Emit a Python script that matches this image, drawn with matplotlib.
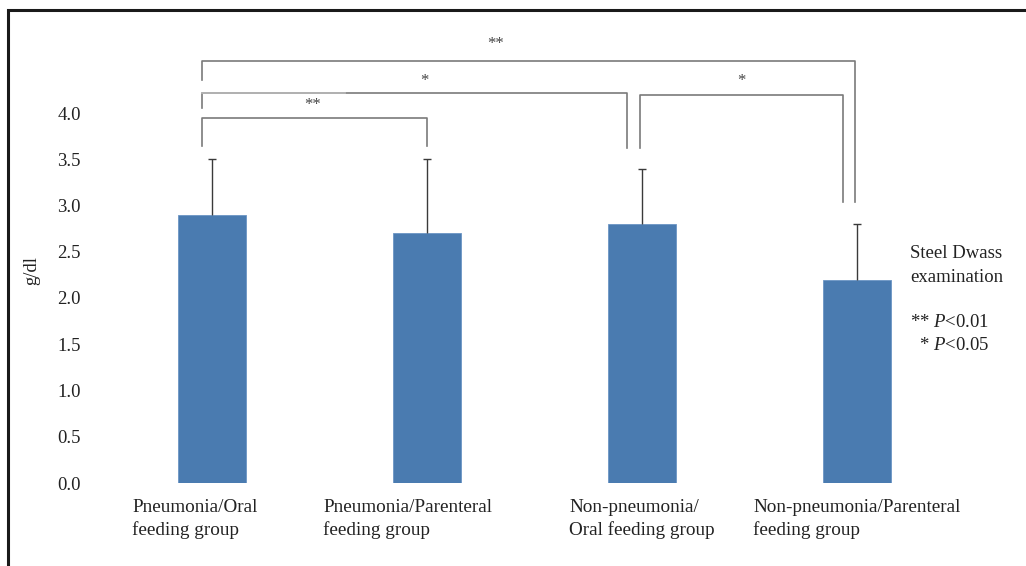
import matplotlib
matplotlib.use("Agg")
import matplotlib.pyplot as plt
from matplotlib.patches import Rectangle

plt.rcParams['font.family'] = ['Liberation Serif', 'DejaVu Serif']
plt.rcParams['mathtext.fontset'] = 'custom'
plt.rcParams['mathtext.it'] = 'Liberation Serif:italic'
plt.rcParams['mathtext.rm'] = 'Liberation Serif'

categories = ["Pneumonia/Oral\nfeeding group",
              "Pneumonia/Parenteral\nfeeding group",
              "Non-pneumonia/\nOral feeding group",
              "Non-pneumonia/Parenteral\nfeeding group"]
means = [2.9, 2.7, 2.8, 2.2]
sd_upper = [0.6, 0.8, 0.6, 0.6]
yticks = [0.0, 0.5, 1.0, 1.5, 2.0, 2.5, 3.0, 3.5, 4.0]

# significance brackets: (group a, group b, bracket height, left leg bottom, right leg bottom, label)
br_a = [0, 0, 0, 2]
br_b = [1, 2, 3, 3]
br_h = [3.95, 4.22, 4.56, 4.20]
br_lbot = [3.64, 4.05, 4.36, 3.62]
br_rbot = [3.64, 3.62, 3.04, 3.04]
br_lab = ["**", "*", "**", "*"]

W, H = 1026, 566
fig = plt.figure(figsize=(W / 100, H / 100), dpi=100)
# outer frame (cropped on right/bottom)
fig.patches.append(Rectangle((8 / W, -0.1), 1.2, 1 - 10 / H + 0.1, transform=fig.transFigure,
                             fill=False, edgecolor='#1a1a1a', linewidth=2.2))

ax_left, ax_right = 92, 986
ax_bottom, ax_top = H - 483, H - 57.5
ax = fig.add_axes([ax_left / W, ax_bottom / H, (ax_right - ax_left) / W, (ax_top - ax_bottom) / H])
unit = 215.0
ax.set_xlim(-(212 - ax_left) / unit, 3 + (ax_right - 857) / unit)
ax.set_ylim(0, 4.6)

x = list(range(len(means)))
ax.bar(x, means, width=0.316, color='#4a7bb0', edgecolor='#6b95c4', linewidth=0.6, zorder=2)
eb = ax.errorbar(x, means, yerr=[[0] * len(means), sd_upper], fmt='none', ecolor='#3a3a3a',
                 elinewidth=1.0, capsize=3, capthick=1.0, zorder=3)
caps = eb[1]
if len(caps) == 2:
    caps[0].set_visible(False)

for s in ax.spines.values():
    s.set_visible(False)
ax.set_yticks(yticks)
ax.set_yticklabels([f"{v:.1f}" for v in yticks], fontsize=13.5, color='#222222')
ax.tick_params(axis='y', length=0, pad=8)
ax.set_xticks([])
ax.set_ylabel("g/dl", fontsize=13.5, color='#222222', labelpad=12)

# category labels
lab_off = [-0.08, -0.09, 0.0, 0.0]
for i, c in enumerate(categories):
    ax.text(i + lab_off[i], -0.17, c, ha='center', va='top', multialignment='left',
            fontsize=13.8, color='#222222', linespacing=1.38)

# brackets
leg_off_l = [-0.047, -0.047, -0.047, -0.01]
leg_off_r = [0.0, -0.07, -0.01, -0.065]
lab_x = [0.47, 0.99, 1.32, 2.46]
lab_y = [4.0, 4.26, 4.66, 4.26]
for k in range(len(br_a)):
    xl = br_a[k] + leg_off_l[k]
    xr = br_b[k] + leg_off_r[k]
    col = '#7a7a7a'
    ax.plot([xl, xl, xr, xr], [br_lbot[k], br_h[k], br_h[k], br_rbot[k]],
            color=col, linewidth=1.2, clip_on=False, zorder=1)
    ax.text(lab_x[k], lab_y[k], br_lab[k], ha='center', va='bottom', fontsize=12,
            color='#444444', clip_on=False)
# lighter start of the second bracket's bar, as in the original
ax.plot([br_a[1] + leg_off_l[1], 0.62], [br_h[1], br_h[1]], color='#b5b5b5',
        linewidth=1.3, clip_on=False, zorder=1.5)

# right-hand annotation
fs = 13.5
fig.text(910 / W, 1 - 258 / H, "Steel Dwass", ha='left', va='baseline',
         fontsize=fs, color='#222222')
fig.text(910 / W, 1 - 282 / H, "examination", ha='left', va='baseline',
         fontsize=fs, color='#222222')
fig.text(910 / W, 1 - 327 / H, r"** $\mathit{P}$<0.01", ha='left', va='baseline', fontsize=fs,
         color='#222222')
fig.text(910 / W, 1 - 350 / H, r"  * $\mathit{P}$<0.05", ha='left', va='baseline', fontsize=fs,
         color='#222222')

fig.savefig("out.png", dpi=100)
